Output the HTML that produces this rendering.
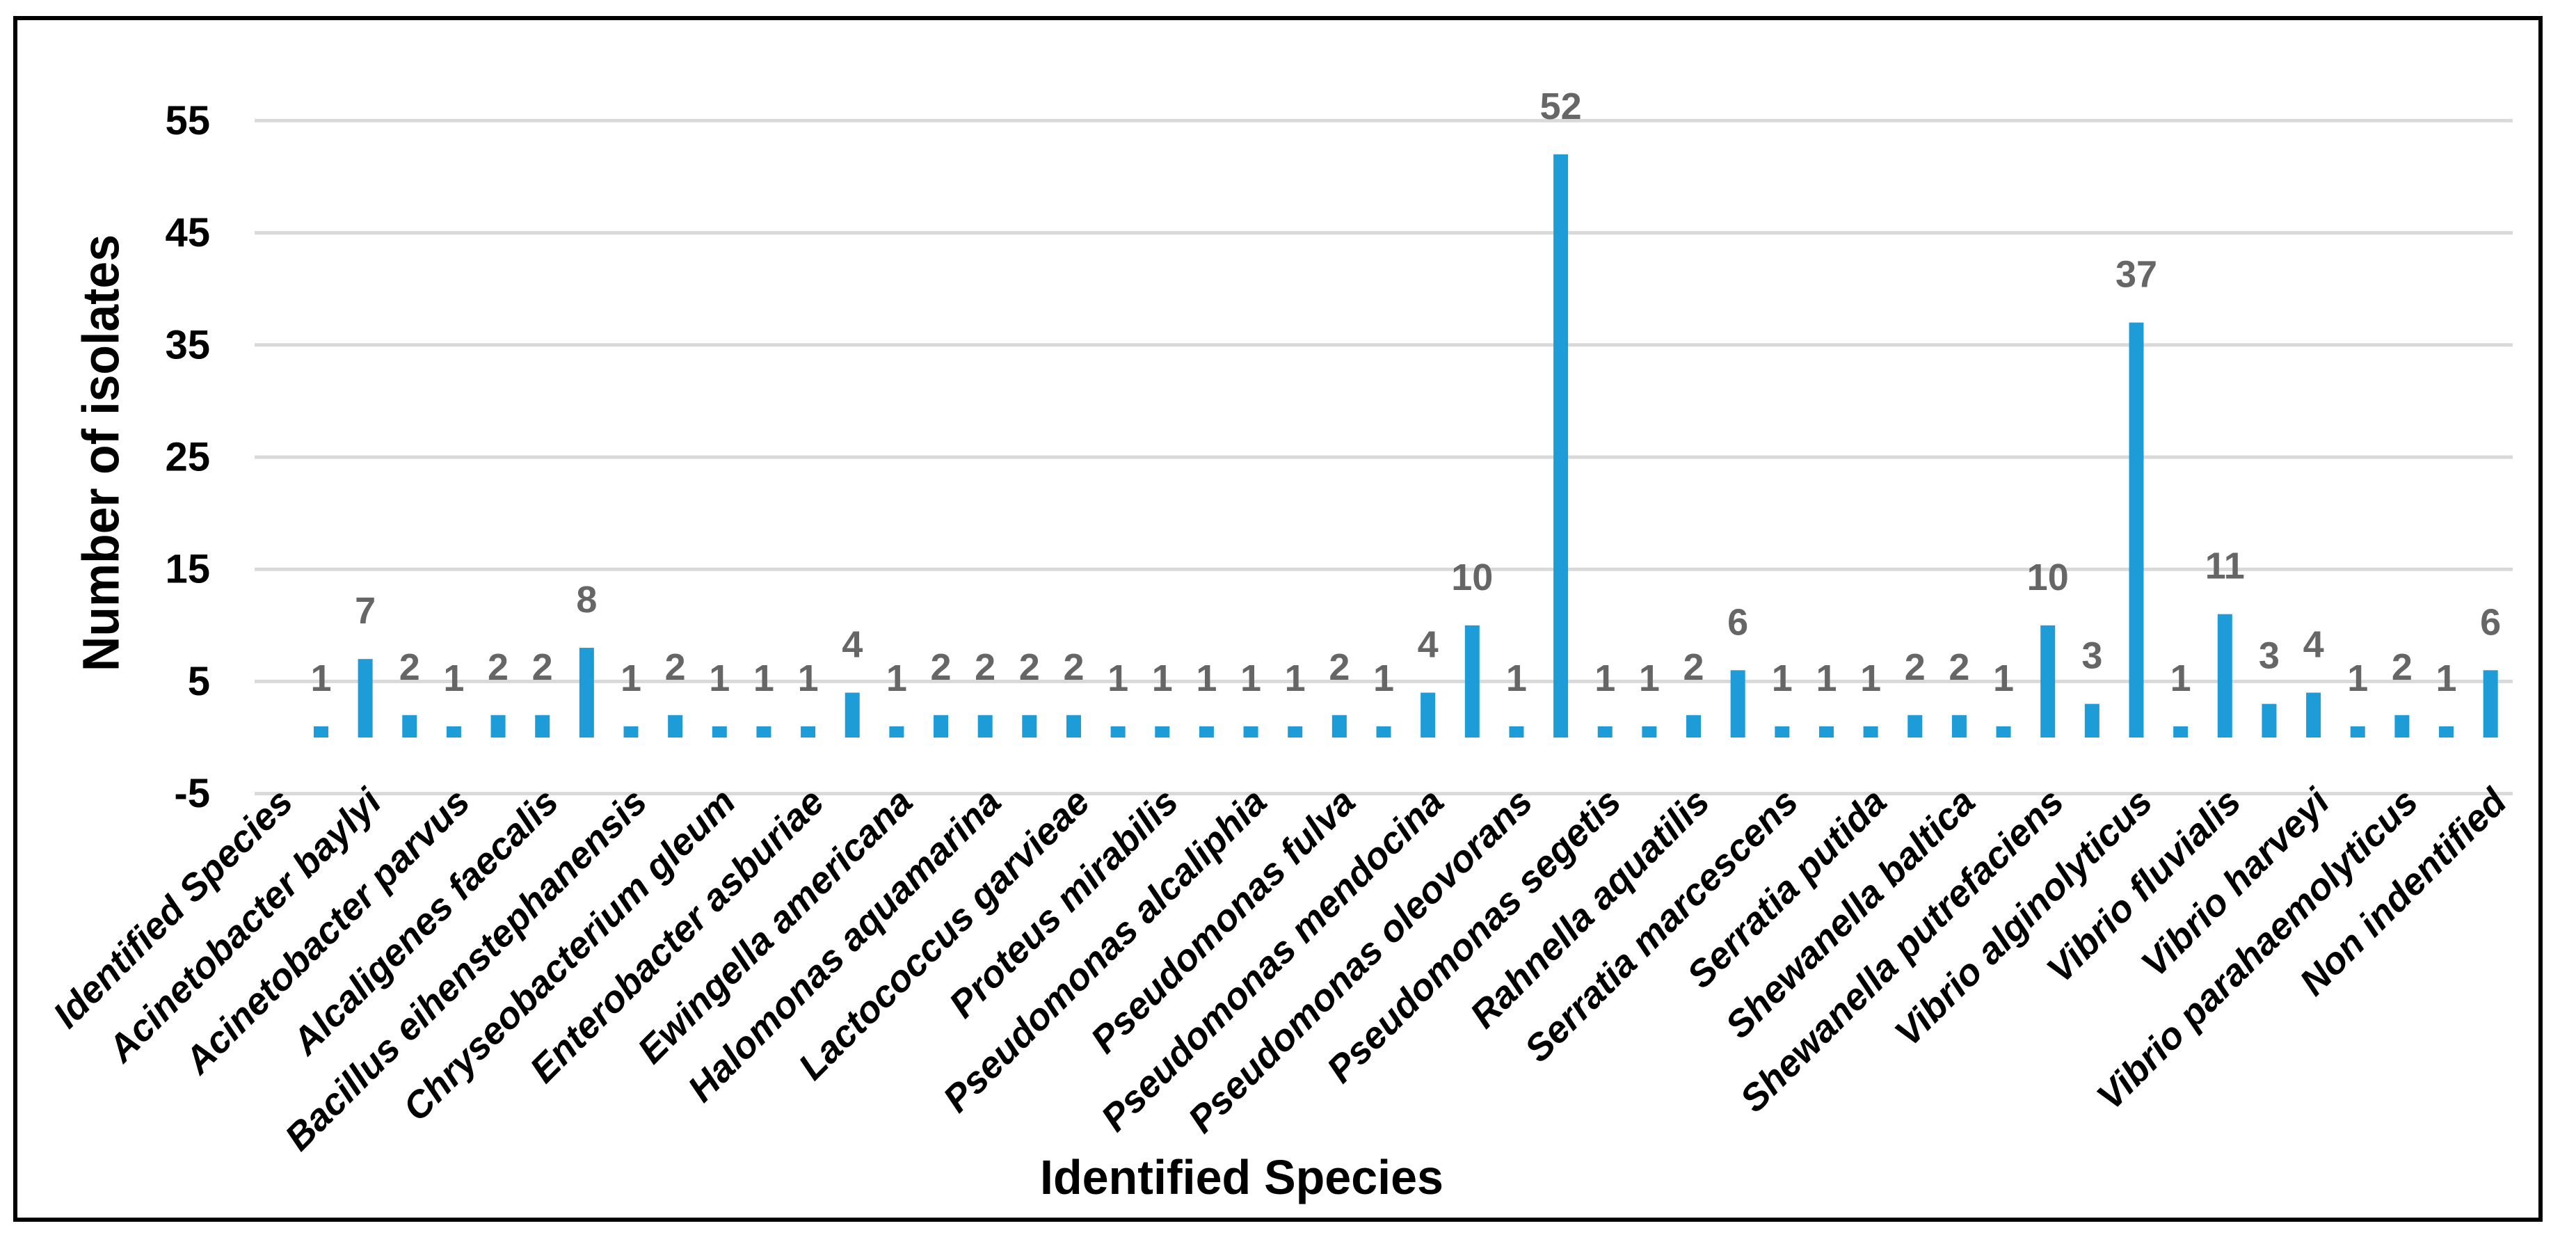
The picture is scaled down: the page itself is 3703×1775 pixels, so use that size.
<!DOCTYPE html>
<html><head><meta charset="utf-8"><style>
html,body{margin:0;padding:0;background:#fff;}
svg{display:block;}
</style></head><body>
<svg id="chart" width="3703" height="1775" viewBox="0 0 3703 1775" xmlns="http://www.w3.org/2000/svg">
<rect x="0" y="0" width="3703" height="1775" fill="#fff"/>
<rect x="22" y="26" width="3630" height="1727" fill="none" stroke="#000" stroke-width="6"/>
<g id="grid"></g>
<g id="yticks"></g>
<g id="bars"></g>
<g id="vals"></g>
<g id="xlabels"></g>
<text x="145" y="651" transform="rotate(-90 145 651)" text-anchor="middle" dominant-baseline="central" font-family="Liberation Sans, sans-serif" font-weight="bold" font-size="74" textLength="628" lengthAdjust="spacingAndGlyphs" fill="#000">Number of isolates</text>
<text x="1785" y="1716" text-anchor="middle" font-family="Liberation Sans, sans-serif" font-weight="bold" font-size="70" textLength="580" lengthAdjust="spacingAndGlyphs" fill="#000">Identified Species</text>
</svg>
<script>
const labels = ["Identified Species","Acinetobacter baylyi","Acinetobacter parvus","Alcaligenes faecalis","Bacillus eihenstephanensis","Chryseobacterium gleum","Enterobacter asburiae","Ewingella americana","Halomonas aquamarina","Lactococcus garvieae","Proteus mirabilis","Pseudomonas alcaliphia","Pseudomonas fulva","Pseudomonas mendocina","Pseudomonas oleovorans","Pseudomonas segetis","Rahnella aquatilis","Serratia marcescens","Serratia putida","Shewanella baltica","Shewanella putrefaciens","Vibrio alginolyticus","Vibrio fluvialis","Vibrio harveyi","Vibrio parahaemolyticus","Non indentified"];
const values = [null,1,7,2,1,2,2,8,1,2,1,1,1,4,1,2,2,2,2,1,1,1,1,1,2,1,4,10,1,52,1,1,2,6,1,1,1,2,2,1,10,3,37,1,11,3,4,1,2,1,6];
const yTicks = [55,45,35,25,15,5,-5];
const NS = "http://www.w3.org/2000/svg";
const plotL = 366, plotR = 3612, zeroY = 1060, pxPerUnit = 16.12;
const nCat = values.length;
const band = (plotR - plotL) / nCat;
function yScale(v){ return zeroY - v * pxPerUnit; }
function xCenter(i){ return plotL + band * (i + 0.5); }
function mk(tag, attrs, parent){ const e = document.createElementNS(NS, tag); for (const k in attrs) e.setAttribute(k, attrs[k]); parent.appendChild(e); return e; }
const grid = document.getElementById('grid'), yt = document.getElementById('yticks');
yTicks.forEach(t => {
  const y = yScale(t);
  const l = mk('line', {x1: plotL, x2: plotR, y1: y, y2: y, stroke: '#d9d9d9', 'stroke-width': 5}, grid);
  
  
  const tx = mk('text', {x: 302, y: y, 'text-anchor': 'end', 'dominant-baseline': 'central', 'font-family': 'Liberation Sans, sans-serif', 'font-weight': 'bold', 'font-size': 58, fill: '#000'}, yt);
  tx.textContent = t;
  
  
});
const barsG = document.getElementById('bars'), valsG = document.getElementById('vals'), xl = document.getElementById('xlabels');
values.forEach((v, i) => {
  if (v === null) return;
  const cx = xCenter(i);
  const r = mk('rect', {x: cx - 10.5, y: yScale(v), width: 21, height: zeroY - yScale(v), fill: '#1e9cd7'}, barsG);
  
  
  const t = mk('text', {x: cx, y: yScale(v) - 51, 'text-anchor': 'middle', 'font-family': 'Liberation Sans, sans-serif', 'font-weight': 'bold', 'font-size': 54, fill: '#666'}, valsG);
  t.textContent = v;
  
  
});
labels.forEach((lab, j) => {
  const i = j * 2;
  const ax = xCenter(i) + 26, ay = 1156;
  const t = mk('text', {x: ax, y: ay, 'text-anchor': 'end', transform: 'rotate(-45 ' + ax + ' ' + ay + ')', 'font-family': 'Liberation Sans, sans-serif', 'font-weight': 'bold', 'font-style': 'italic', 'font-size': 54, fill: '#000'}, xl);
  t.textContent = lab;
  
  
});
</script>
</body></html>
